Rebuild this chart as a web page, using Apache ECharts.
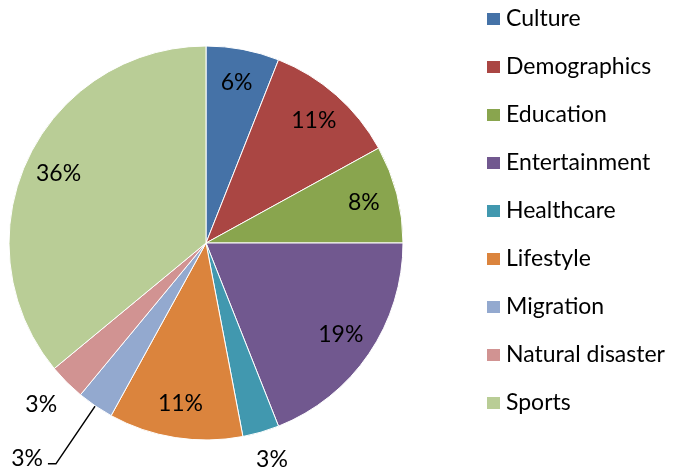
<!DOCTYPE html>
<html>
<head>
<meta charset="utf-8">
<script src="https://cdn.jsdelivr.net/npm/echarts@6/dist/echarts.min.js"></script>
<style>
  html, body { margin: 0; padding: 0; background: #fff; }
  #chart { width: 682px; height: 472px; }
</style>
</head>
<body>
<div id="chart"></div>
<script>
// topics and their shares (percent)
var topics = ['Culture', 'Demographics', 'Education', 'Entertainment', 'Healthcare',
    'Lifestyle', 'Migration', 'Natural disaster', 'Sports'];
var shares = [6, 11, 8, 19, 3, 11, 3, 3, 36];
var colors = ['#4572A7', '#AA4643', '#89A54E', '#71588F', '#4198AF',
    '#DB843D', '#93A9CF', '#D19392', '#B9CD96'];

var FONT = 'Lato';
var FSIZE = 23;

var chart = echarts.init(document.getElementById('chart'));

// slices whose label sits outside the pie
var outsideLabel = {
    'Healthcare': { length: 29, length2: 0, show: false, dx: -18, dy: 0 },
    'Migration': { length: 70, length2: 8, show: true, dx: 0, dy: -5 },
    'Natural disaster': { length: 32, length2: 0, show: false, dx: 18, dy: 0 }
};

var pieData = topics.map(function (t, i) {
    return { name: t, value: shares[i], itemStyle: { color: colors[i] } };
});

var labelData = topics.map(function (t, i) {
    var item = { name: t, value: shares[i] };
    var o = outsideLabel[t];
    if (o) {
        item.label = { position: 'outside' };
        item.labelLine = {
            show: o.show, length: o.length, length2: o.length2,
            lineStyle: { color: '#000', width: 1.5 }
        };
    }
    return item;
});

chart.setOption({
    animation: false,
    color: colors,
    legend: {
        orient: 'vertical',
        left: 485,
        top: 7,
        padding: 0,
        itemWidth: 15,
        itemHeight: 14,
        itemGap: 24,
        icon: 'rect',
        textStyle: { fontFamily: FONT, fontSize: FSIZE, color: '#000', lineHeight: 24 },
        data: topics
    },
    series: [
        {
            type: 'pie',
            center: [206, 243],
            radius: [0, 197],
            startAngle: 90,
            clockwise: true,
            silent: true,
            label: { show: false },
            labelLine: { show: false },
            itemStyle: { borderColor: '#fff', borderWidth: 1 },
            data: pieData
        },
        {
            // transparent ring that only carries the labels
            type: 'pie',
            center: [206, 243],
            radius: [123, 197],
            startAngle: 90,
            clockwise: true,
            silent: true,
            avoidLabelOverlap: false,
            legendHoverLink: false,
            itemStyle: { color: 'rgba(0,0,0,0)' },
            label: {
                show: true,
                position: 'inside',
                formatter: '{c}%',
                fontFamily: FONT,
                fontSize: FSIZE,
                color: '#000'
            },
            labelLine: { show: false },
            labelLayout: function (p) {
                var o = outsideLabel[topics[p.dataIndex]];
                return o ? { dx: o.dx, dy: o.dy } : {};
            },
            data: labelData
        }
    ]
});
</script>
</body>
</html>
